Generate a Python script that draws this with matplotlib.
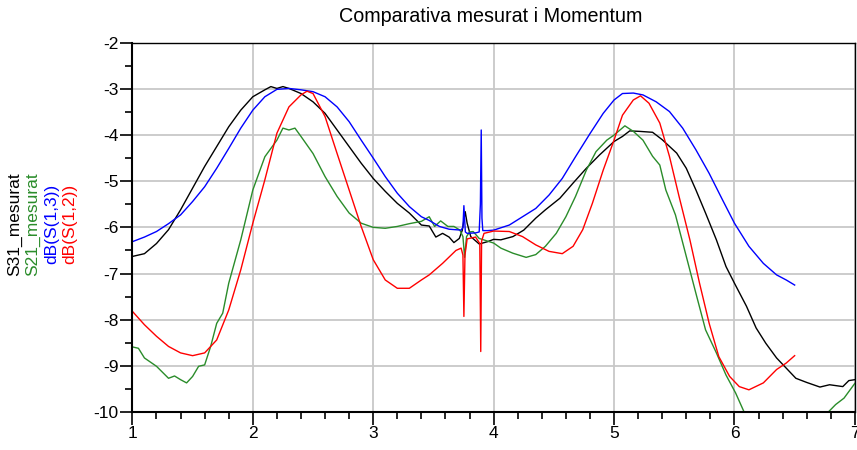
import matplotlib
matplotlib.use("Agg")
import matplotlib.pyplot as plt
from matplotlib.ticker import MultipleLocator

plt.rcParams['font.family'] = ['Liberation Sans', 'DejaVu Sans']

title = "Comparativa mesurat i Momentum"
series_names = ["S31_mesurat", "S21_mesurat", "dB(S(1,3))", "dB(S(1,2))"]
series_colors = ["#000000", "#2a8c2a", "#0000ff", "#ff0000"]

# S31 measured
s31_x = [1.0, 1.05, 1.1, 1.2, 1.3, 1.4, 1.5, 1.6, 1.7, 1.8, 1.9, 2.0, 2.1, 2.15, 2.2, 2.25,
         2.3, 2.4, 2.5, 2.6, 2.7, 2.8, 2.9, 3.0, 3.1, 3.2, 3.3, 3.4, 3.465, 3.52, 3.576,
         3.63, 3.67, 3.715, 3.74, 3.764, 3.78, 3.81, 3.88, 3.95, 4.0, 4.06, 4.16, 4.25,
         4.35, 4.43, 4.55, 4.66, 4.77, 4.88, 5.0, 5.07, 5.13, 5.21, 5.32, 5.40, 5.52,
         5.60, 5.68, 5.76, 5.85, 5.93, 6.0, 6.10, 6.18, 6.26, 6.35, 6.43, 6.51, 6.60,
         6.71, 6.79, 6.90, 6.95, 7.0]
s31_y = [-6.63, -6.6, -6.57, -6.35, -6.05, -5.62, -5.15, -4.68, -4.25, -3.82, -3.46, -3.17,
         -3.02, -2.95, -2.99, -2.95, -2.99, -3.1, -3.28, -3.53, -3.89, -4.25, -4.61, -4.94,
         -5.22, -5.48, -5.69, -5.95, -5.97, -6.21, -6.13, -6.21, -6.33, -6.24, -6.06, -5.66,
         -5.91, -6.2, -6.36, -6.31, -6.26, -6.27, -6.2, -6.06, -5.8, -5.62, -5.37, -5.04,
         -4.72, -4.43, -4.14, -4.03, -3.91, -3.92, -3.94, -4.1, -4.39, -4.72, -5.19, -5.69,
         -6.27, -6.85, -7.21, -7.71, -8.18, -8.51, -8.83, -9.05, -9.27, -9.36, -9.46, -9.41,
         -9.45, -9.32, -9.3]

# S21 measured
s21_x = [1.0, 1.05, 1.1, 1.2, 1.3, 1.35, 1.4, 1.45, 1.5, 1.55, 1.6, 1.65, 1.7, 1.75, 1.8,
         1.9, 2.0, 2.1, 2.2, 2.25, 2.3, 2.35, 2.4, 2.5, 2.6, 2.7, 2.8, 2.9, 3.0, 3.1, 3.2,
         3.3, 3.4, 3.465, 3.51, 3.56, 3.62, 3.67, 3.72, 3.745, 3.759, 3.775, 3.8, 3.83,
         3.88, 4.0, 4.06, 4.16, 4.27, 4.35, 4.43, 4.52, 4.60, 4.68, 4.77, 4.85, 4.94, 5.0,
         5.09, 5.16, 5.24, 5.32, 5.38, 5.43, 5.51, 5.60, 5.68, 5.76, 5.85, 5.93, 6.01,
         6.08, 6.2, 6.4, 6.6, 6.78, 6.84, 6.91, 7.0]
s21_y = [-8.59, -8.62, -8.83, -9.01, -9.27, -9.22, -9.3, -9.37, -9.23, -9.01, -8.98, -8.58,
         -8.08, -7.86, -7.21, -6.27, -5.19, -4.47, -4.11, -3.85, -3.89, -3.85, -4.03, -4.4,
         -4.9, -5.33, -5.69, -5.91, -6.0, -6.02, -5.98, -5.92, -5.87, -5.77, -5.98, -5.86,
         -5.98, -5.98, -6.06, -6.2, -6.65, -6.2, -6.1, -6.09, -6.24, -6.34, -6.45, -6.56,
         -6.65, -6.59, -6.41, -6.13, -5.77, -5.33, -4.76, -4.36, -4.11, -4.0, -3.8, -3.92,
         -4.11, -4.46, -4.65, -5.19, -5.73, -6.63, -7.43, -8.22, -8.72, -9.2, -9.59, -10.0,
         -10.5, -10.9, -10.6, -10.0, -9.84, -9.7, -9.38]

# Momentum dB(S(1,3))
s13_x = [1.0, 1.1, 1.2, 1.3, 1.4, 1.5, 1.6, 1.7, 1.8, 1.9, 2.0, 2.1, 2.2, 2.3, 2.4, 2.5,
         2.6, 2.7, 2.8, 2.9, 3.0, 3.1, 3.2, 3.3, 3.4, 3.465, 3.55, 3.63, 3.73, 3.745,
         3.753, 3.765, 3.78, 3.85, 3.88, 3.89, 3.897, 3.903, 3.91, 3.95, 4.0, 4.13, 4.24,
         4.35, 4.46, 4.57, 4.68, 4.80, 4.91, 5.0, 5.07, 5.16, 5.24, 5.35, 5.46, 5.57,
         5.68, 5.79, 5.90, 6.0, 6.12, 6.24, 6.35, 6.43, 6.5]
s13_y = [-6.31, -6.21, -6.09, -5.92, -5.73, -5.44, -5.12, -4.72, -4.29, -3.85, -3.46, -3.17,
         -3.01, -2.99, -3.02, -3.06, -3.17, -3.39, -3.71, -4.11, -4.5, -4.9, -5.26, -5.55,
         -5.77, -5.85, -5.98, -6.04, -6.06, -6.0, -5.53, -6.1, -6.13, -6.12, -6.1, -5.5,
         -3.89, -5.8, -6.07, -6.07, -6.06, -5.95, -5.77, -5.59, -5.3, -4.94, -4.47, -3.97,
         -3.53, -3.24, -3.1, -3.09, -3.13, -3.28, -3.49, -3.85, -4.32, -4.83, -5.4, -5.91,
         -6.41, -6.78, -7.03, -7.14, -7.25]

# Momentum dB(S(1,2))
s12_x = [1.0, 1.1, 1.2, 1.3, 1.4, 1.5, 1.6, 1.7, 1.8, 1.9, 2.0, 2.1, 2.2, 2.3, 2.4, 2.45,
         2.5, 2.6, 2.7, 2.8, 2.9, 3.0, 3.1, 3.2, 3.3, 3.4, 3.465, 3.576, 3.687, 3.73,
         3.745, 3.753, 3.762, 3.78, 3.85, 3.885, 3.893, 3.90, 3.92, 4.0, 4.13, 4.24, 4.35,
         4.46, 4.57, 4.66, 4.74, 4.82, 4.91, 5.0, 5.07, 5.16, 5.22, 5.29, 5.38, 5.46,
         5.54, 5.63, 5.71, 5.79, 5.87, 5.96, 6.04, 6.12, 6.24, 6.35, 6.43, 6.5]
s12_y = [-7.82, -8.11, -8.36, -8.58, -8.72, -8.78, -8.72, -8.44, -7.79, -6.92, -5.91, -4.97,
         -3.96, -3.39, -3.13, -3.05, -3.1, -3.6, -4.4, -5.19, -5.98, -6.7, -7.14, -7.32,
         -7.32, -7.14, -7.03, -6.78, -6.5, -6.45, -6.6, -7.93, -6.6, -6.25, -6.21, -6.35,
         -8.69, -6.3, -6.13, -6.08, -6.09, -6.2, -6.38, -6.52, -6.57, -6.41, -6.05, -5.48,
         -4.76, -4.11, -3.57, -3.24, -3.15, -3.31, -3.74, -4.46, -5.33, -6.27, -7.21, -8.08,
         -8.8, -9.23, -9.45, -9.52, -9.37, -9.08, -8.94, -8.78]

x_ticks = [1, 2, 3, 4, 5, 6, 7]
y_ticks = [-10, -9, -8, -7, -6, -5, -4, -3, -2]

fig = plt.figure(figsize=(8.57, 4.5), dpi=100)
ax = fig.add_axes([0.1545, 0.0845, 0.843, 0.8205])

data = [(s31_x, s31_y), (s21_x, s21_y), (s13_x, s13_y), (s12_x, s12_y)]
for (xs, ys), c in zip(data, series_colors):
    ax.plot(xs, ys, color=c, lw=1.0)

ax.set_xlim(1, 7)
ax.set_ylim(-10, -2)
ax.set_xticks(x_ticks)
ax.set_yticks(y_ticks)
ax.set_xticklabels([str(v) for v in x_ticks])
ax.set_yticklabels([str(v) for v in y_ticks])
ax.xaxis.set_minor_locator(MultipleLocator(0.2))
ax.yaxis.set_minor_locator(MultipleLocator(0.5))
ax.grid(True, which='major', color='#c8c8c8', lw=1.3)
ax.set_axisbelow(True)

ax.tick_params(which='major', direction='out', length=9, width=1.2, labelsize=12.5,
               pad=1, colors='black')
ax.tick_params(which='minor', direction='out', length=5, width=1.2)
for side in ['left', 'bottom']:
    ax.spines[side].set_linewidth(1.5)
for side in ['top', 'right']:
    ax.spines[side].set_linewidth(1.0)

fig.text(0.573, 0.964, title, ha='center', va='center', fontsize=14.2)

label_x = [15, 33, 52, 70]
for name, c, px in zip(series_names, series_colors, label_x):
    fig.text(px / 857, 0.502, name, rotation=90, ha='center', va='center',
             color=c, fontsize=12.5)

fig.savefig("out.png", dpi=100)
